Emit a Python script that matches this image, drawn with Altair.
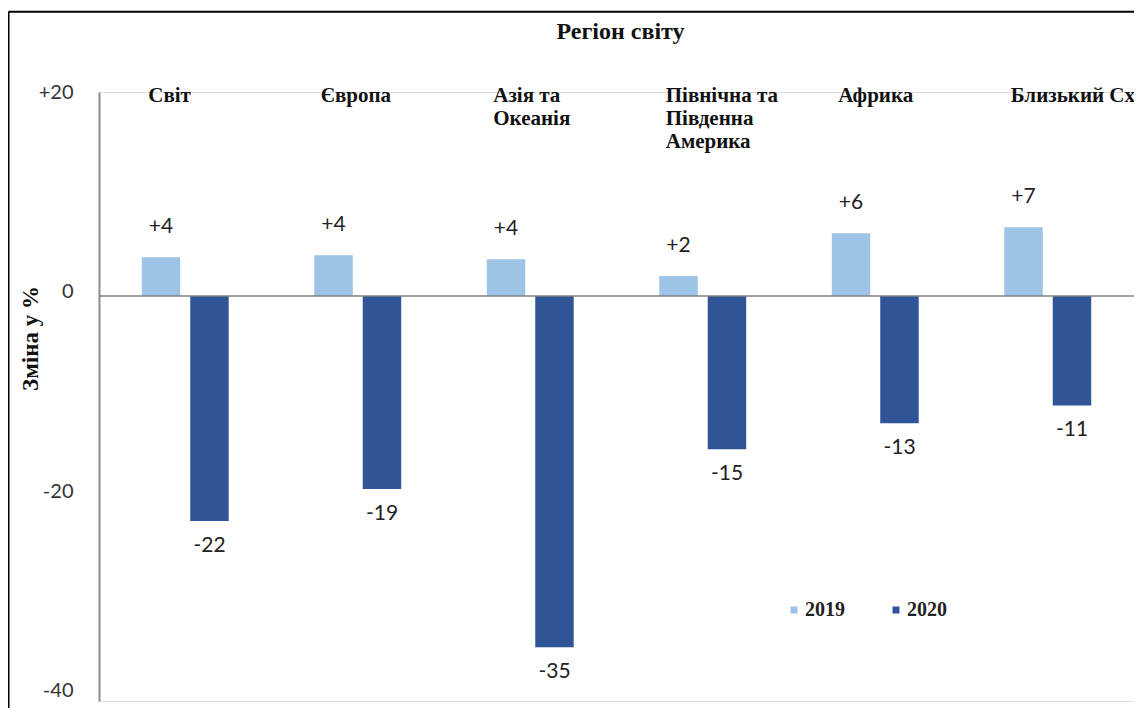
import altair as alt
import pandas as pd

# ---- data ----
regions = ["Світ", "Європа", "Азія та Океанія", "Північна та Південна Америка", "Африка", "Близький Схід"]
region_labels = ["Світ", "Європа", "Азія та\nОкеанія", "Північна та\nПівденна\nАмерика", "Африка", "Близький Схід"]
years = ["2019", "2020"]
values_2019 = [3.9, 4.1, 3.7, 2.0, 6.3, 6.9]
values_2020 = [-22.6, -19.4, -35.3, -15.4, -12.8, -11.0]
labels_2019 = ["+4", "+4", "+4", "+2", "+6", "+7"]
labels_2020 = ["-22", "-19", "-35", "-15", "-13", "-11"]
y_ticks = [20, 0, -20, -40]
colors = ["#9DC3E6", "#2F5597"]
title_text = "Регіон світу"
y_title = "Зміна у %"

rows = []
for i, r in enumerate(regions):
    rows.append({"region": r, "year": years[0], "value": values_2019[i], "label": labels_2019[i]})
    rows.append({"region": r, "year": years[1], "value": values_2020[i], "label": labels_2020[i]})
df = pd.DataFrame(rows)
cat_df = pd.DataFrame({"region": regions, "text": region_labels})
one_df = pd.DataFrame({"value": [0]})

W = 1035
H = 609
SERIF = "Liberation Serif"
SANS = "Lato"

x_scale = alt.Scale(domain=regions, paddingInner=0, paddingOuter=0)
xoff_scale = alt.Scale(domain=years, paddingInner=0.206, paddingOuter=0.883)
y_scale = alt.Scale(domain=[-40.7, 20.5], nice=False, zero=False)

y_axis = alt.Axis(
    values=y_ticks,
    labelExpr="datum.value > 0 ? '+' + datum.value : '' + datum.value",
    labelFont=SANS, labelFontSize=20, labelColor="#333333", labelPadding=26,
    labelOffset=-4, ticks=False, grid=False,
    domainColor="#8c8c8c", domainWidth=2,
    title=y_title, titleFont=SERIF, titleFontWeight="bold", titleFontSize=23,
    titleColor="#111111", titleAngle=270, titleX=-69, titleY=246,
    titleAlign="center", titleBaseline="middle",
)

base = alt.Chart(df).encode(
    x=alt.X("region:N", scale=x_scale, sort=regions, axis=None),
    xOffset=alt.XOffset("year:N", scale=xoff_scale, sort=years),
)

bars = base.mark_bar().encode(
    y=alt.Y("value:Q", scale=y_scale, axis=y_axis),
    y2=alt.Y2(datum=0),
    color=alt.Color(
        "year:N",
        scale=alt.Scale(domain=years, range=colors),
        legend=alt.Legend(
            orient="none", legendX=685, legendY=508, direction="horizontal",
            title=None, symbolType="square", symbolSize=49, symbolStrokeWidth=0,
            labelFont=SERIF, labelFontWeight="bold", labelFontSize=20,
            labelColor="#222222", columnPadding=41, labelOffset=1, padding=0,
        ),
    ),
)

pos_text = base.transform_filter("datum.value >= 0").mark_text(
    dy=-24, baseline="alphabetic", font=SANS, fontSize=21, color="#222222"
).encode(y=alt.Y("value:Q", scale=y_scale), text="label:N")

neg_text = base.transform_filter("datum.value < 0").mark_text(
    dy=31, baseline="alphabetic", font=SANS, fontSize=21, color="#222222"
).encode(y=alt.Y("value:Q", scale=y_scale), text="label:N")

zero_rule = alt.Chart(one_df).mark_rule(color="#808080", strokeWidth=1.5).encode(
    y=alt.Y("value:Q", scale=y_scale), x=alt.value(0), x2=alt.value(W + 10)
)

cat_text = alt.Chart(cat_df).mark_text(
    align="left", baseline="alphabetic", dx=-37, lineBreak="\n", lineHeight=23,
    font=SERIF, fontWeight="bold", fontSize=21, color="#111111",
).encode(
    x=alt.X("region:N", scale=x_scale, sort=regions, axis=None),
    y=alt.value(10),
    text="text:N",
)

title_mark = alt.Chart(one_df).mark_text(
    align="center", baseline="alphabetic", font=SERIF, fontWeight="bold",
    fontSize=24, color="#111111",
).encode(x=alt.value(521.5), y=alt.value(-53), text=alt.value(title_text))

frame_top = alt.Chart(one_df).mark_rule(color="black", strokeWidth=2).encode(
    x=alt.value(-90.5), x2=alt.value(W + 20), y=alt.value(-80.2), y2=alt.value(-80.2)
)
frame_left = alt.Chart(one_df).mark_rule(color="black", strokeWidth=2).encode(
    x=alt.value(-90.5), x2=alt.value(-90.5), y=alt.value(-80.2), y2=alt.value(H + 20)
)

chart = alt.layer(
    bars, zero_rule, pos_text, neg_text, cat_text, title_mark, frame_top, frame_left
).properties(
    width=W, height=H,
    autosize=alt.AutoSizeParams(type="none"),
    padding={"left": 91, "top": 84, "right": 0, "bottom": 7},
).configure_view(stroke=None).configure(background="white")

chart.save("out.html", embed_options={"renderer": "svg", "actions": False})
